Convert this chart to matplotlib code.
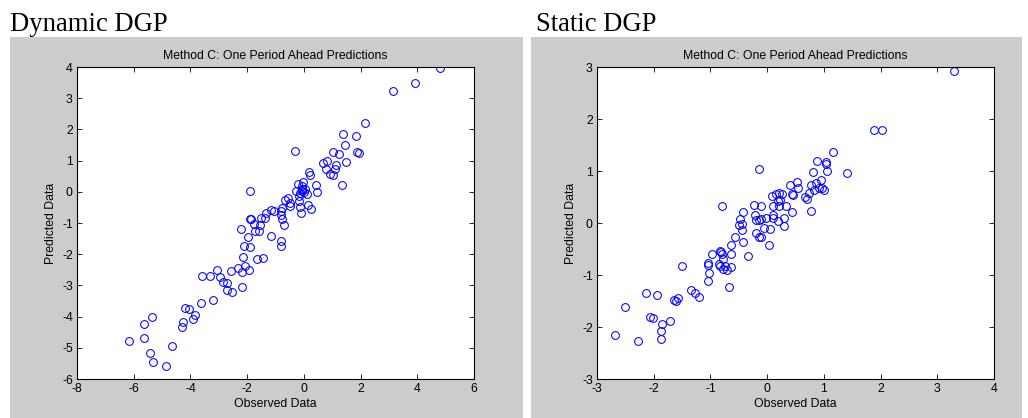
import matplotlib
matplotlib.use("Agg")
import matplotlib.pyplot as plt
from matplotlib.patches import Rectangle

# ---- Data: Dynamic DGP (left) ----
dyn_obs = [4.80, 3.93, 3.15, 2.14, 1.37, 1.84, 1.45, -0.30, 1.04, 1.25, 1.88, 1.95,
           0.80, 0.69, 1.12, 1.50, 0.77, 1.10, 0.92, 1.04, 0.19, 0.20, 1.33, 0.43,
           0.45, -0.22, -0.02, -0.08, -0.27, -0.08, 0.00, -0.12, 0.12, -1.91, -0.18,
           -0.17, 0.13, 0.24, -0.15, -0.11, -0.55, -0.67, -0.48, -0.48, -0.76, -0.80,
           -0.80, -0.77, -0.70, -1.17, -1.05, -1.32, -1.36, -1.51, -1.90, -1.87, -1.55,
           -1.75, -1.73, -1.58, -2.21, -1.96, -1.16, -0.82, -0.80, -2.11, -1.89, -2.14,
           -1.66, -1.45, -2.08, -2.32, -3.07, -2.56, -1.95, -2.17, -3.60, -3.31, -2.96,
           -2.84, -2.70, -2.72, -2.52, -2.17, -3.19, -3.63, -4.18, -4.04, -3.84, -3.90,
           -4.27, -4.30, -5.34, -5.64, -5.64, -6.18, -4.65, -5.43, -5.31, -4.86,
           0.05, -0.05]
dyn_pred = [3.98, 3.50, 3.24, 2.22, 1.84, 1.78, 1.50, 1.30, 1.28, 1.20, 1.28, 1.25,
            0.98, 0.92, 0.87, 0.95, 0.74, 0.74, 0.57, 0.53, 0.62, 0.55, 0.21, 0.21,
            -0.01, 0.26, 0.31, 0.17, 0.04, 0.02, 0.00, -0.03, -0.06, 0.04, -0.15,
            -0.30, -0.43, -0.55, -0.50, -0.68, -0.20, -0.27, -0.35, -0.47, -0.52, -0.62,
            -0.75, -0.86, -1.06, -0.58, -0.63, -0.68, -0.85, -0.85, -0.87, -0.88, -1.05,
            -1.03, -1.26, -1.26, -1.19, -1.46, -1.43, -1.57, -1.73, -1.73, -1.76, -2.10,
            -2.14, -2.12, -2.38, -2.45, -2.50, -2.55, -2.52, -2.58, -2.69, -2.69, -2.74,
            -2.88, -2.93, -3.16, -3.20, -3.06, -3.47, -3.58, -3.72, -3.77, -3.96, -4.09,
            -4.17, -4.33, -4.02, -4.25, -4.67, -4.77, -4.94, -5.16, -5.45, -5.57,
            0.10, 0.08]

# ---- Data: Static DGP (right) ----
sta_obs = [3.30, 1.89, 2.02, 1.16, 0.88, 1.03, 1.03, -0.14, 0.81, 1.06, 1.40, 0.41,
           0.53, 0.55, 0.77, 0.87, 0.95, 0.91, 0.96, 1.01, 0.83, 0.74, 0.67, 0.71,
           0.77, 0.44, 0.45, 0.43, 0.16, 0.21, 0.27, 0.09, 0.23, 0.20, 0.10, 0.21,
           0.33, -0.23, -0.11, -0.80, -0.42, -0.21, 0.11, 0.11, 0.29, -0.20, -0.14,
           -0.11, -0.02, 0.20, -0.47, -0.50, -0.45, -0.44, 0.29, -0.05, 0.05, -0.20,
           -0.14, -0.11, -0.56, -0.43, 0.03, -0.64, -0.84, -0.82, -0.97, -0.80, -0.64,
           -0.34, -0.77, -1.05, -1.05, -0.85, -0.83, -0.74, -0.64, -1.50, -0.78, -0.70,
           -1.03, -1.04, -0.68, -1.35, -1.27, -1.20, -2.13, -1.95, -1.64, -1.61, -1.57,
           -2.51, -2.07, -2.02, -1.71, -1.85, -1.87, -1.87, -2.68, -2.28]
sta_pred = [2.92, 1.79, 1.79, 1.36, 1.19, 1.18, 1.14, 1.03, 0.98, 1.00, 0.97, 0.74,
            0.79, 0.68, 0.73, 0.77, 0.82, 0.68, 0.68, 0.63, 0.64, 0.58, 0.50, 0.47,
            0.24, 0.56, 0.54, 0.21, 0.56, 0.57, 0.56, 0.51, 0.45, 0.42, 0.32, 0.32,
            0.33, 0.35, 0.32, 0.33, 0.21, 0.16, 0.16, 0.10, 0.10, 0.05, 0.05, 0.08,
            0.10, 0.03, 0.07, -0.03, -0.01, -0.14, -0.06, -0.09, -0.11, -0.19, -0.27,
            -0.27, -0.26, -0.37, -0.42, -0.42, -0.53, -0.56, -0.60, -0.60, -0.60,
            -0.64, -0.69, -0.77, -0.80, -0.78, -0.83, -0.82, -0.85, -0.83, -0.88, -0.90,
            -0.96, -1.12, -1.23, -1.28, -1.35, -1.43, -1.35, -1.39, -1.48, -1.50, -1.44,
            -1.62, -1.81, -1.83, -1.89, -1.94, -2.08, -2.23, -2.16, -2.27]

dyn_xticks = [-8, -6, -4, -2, 0, 2, 4, 6]
dyn_yticks = [-6, -5, -4, -3, -2, -1, 0, 1, 2, 3, 4]
sta_xticks = [-3, -2, -1, 0, 1, 2, 3, 4]
sta_yticks = [-3, -2, -1, 0, 1, 2, 3]

headings = ["Dynamic DGP", "Static DGP"]
panel_title = "Method C: One Period Ahead Predictions"
xlab = "Observed Data"
ylab = "Predicted Data"

W, H = 1028, 418
fig = plt.figure(figsize=(W / 100, H / 100), dpi=100)
fig.patch.set_facecolor("white")

sans = ["Liberation Sans", "DejaVu Sans"]
serif = ["Liberation Serif", "DejaVu Serif"]
fs = 8.8

# grey panel backgrounds (in a background axes underneath everything)
bg = fig.add_axes([0, 0, 1, 1], zorder=-10)
bg.set_xlim(0, W)
bg.set_ylim(H, 0)
bg.axis("off")
for x0, x1 in [(10, 523), (531, 1022)]:
    bg.add_patch(Rectangle((x0, 37), x1 - x0, H - 37, facecolor="#cccccc", edgecolor="none"))

fig.text(10 / W, 1 - 31 / H, headings[0], family=serif, fontsize=19.2, va="baseline", ha="left")
fig.text(536 / W, 1 - 31 / H, headings[1], family=serif, fontsize=19.2, va="baseline", ha="left")

ax_bottom = (H - 379) / H
ax_h = 312 / H
ax_w = 397 / W

panels = [
    (77, dyn_obs, dyn_pred, dyn_xticks, dyn_yticks),
    (597, sta_obs, sta_pred, sta_xticks, sta_yticks),
]
for left, xs, ys, xt, yt in panels:
    ax = fig.add_axes([left / W, ax_bottom, ax_w, ax_h], zorder=5)
    ax.set_facecolor("white")
    ax.plot(xs, ys, linestyle="none", marker="o", markersize=5.6,
            markerfacecolor="none", markeredgecolor="#0000ff", markeredgewidth=0.75)
    ax.set_xlim(xt[0], xt[-1])
    ax.set_ylim(yt[0], yt[-1])
    ax.set_xticks(xt)
    ax.set_yticks(yt)
    ax.set_xticklabels([str(v) for v in xt], family=sans, fontsize=fs)
    ax.set_yticklabels([str(v) for v in yt], family=sans, fontsize=fs)
    ax.tick_params(direction="in", length=3.5, width=0.6, top=True, right=True,
                   pad=3, colors="black")
    for s in ax.spines.values():
        s.set_linewidth(0.8)
    ax.set_title(panel_title, family=sans, fontsize=fs, pad=6)
    ax.set_xlabel(xlab, family=sans, fontsize=fs, labelpad=2)
    ax.set_ylabel(ylab, family=sans, fontsize=fs, labelpad=4)

fig.savefig("out.png", dpi=100, facecolor="white")
